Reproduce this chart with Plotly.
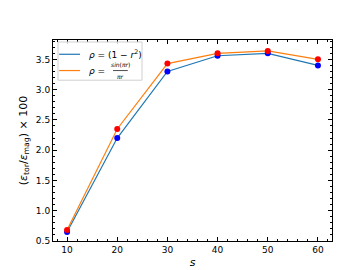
import plotly.graph_objects as go

s_vals = [10, 20, 30, 40, 50, 60]
ratio_parabolic = [0.65, 2.20, 3.30, 3.56, 3.60, 3.40]
ratio_sinc = [0.68, 2.35, 3.43, 3.60, 3.64, 3.50]

color_parabolic = "#1f77b4"
color_sinc = "#ff7f0e"

fig = go.Figure()
fig.add_trace(go.Scatter(x=s_vals, y=ratio_parabolic, mode="lines",
                         line=dict(color=color_parabolic, width=1.2)))
fig.add_trace(go.Scatter(x=s_vals, y=ratio_sinc, mode="lines",
                         line=dict(color=color_sinc, width=1.2)))
fig.add_trace(go.Scatter(x=s_vals, y=ratio_parabolic, mode="markers",
                         marker=dict(color="blue", size=6)))
fig.add_trace(go.Scatter(x=s_vals, y=ratio_sinc, mode="markers",
                         marker=dict(color="red", size=6)))

axis_common = dict(
    showline=True, linecolor="black", linewidth=1, mirror="ticks",
    ticks="inside", ticklen=4, tickcolor="black", tickwidth=1,
    showgrid=False, zeroline=False,
    tickfont=dict(family="DejaVu Sans", size=9, color="black"),
)
fig.update_xaxes(range=[7.2, 62.8], dtick=10, tick0=0,
                 minor=dict(ticks="inside", ticklen=2, dtick=2, tickcolor="black", showgrid=False),
                 title=dict(text="<i>s</i>", font=dict(family="DejaVu Sans", size=11, color="black"), standoff=4),
                 **axis_common)
fig.update_yaxes(range=[0.5, 3.82], dtick=0.5, tick0=0, tickformat=".1f",
                 minor=dict(ticks="inside", ticklen=2, dtick=0.1, tickcolor="black", showgrid=False),
                 title=dict(text="(<i>ε</i><sub>tor</sub>/<i>ε</i><sub>mag</sub>) × 100",
                            font=dict(family="DejaVu Sans", size=11, color="black"), standoff=6),
                 **axis_common)

# manual legend (matplotlib style, with stacked fraction)
shapes = [
    dict(type="rect", xref="paper", yref="paper", x0=0.018, x1=0.319, y0=0.800, y1=0.990,
         line=dict(color="#d0d0d0", width=1), fillcolor="rgba(255,255,255,0.8)", layer="above"),
    dict(type="line", xref="paper", yref="paper", x0=0.022, x1=0.097, y0=0.929, y1=0.929,
         line=dict(color=color_parabolic, width=1.2)),
    dict(type="line", xref="paper", yref="paper", x0=0.022, x1=0.097, y0=0.848, y1=0.848,
         line=dict(color=color_sinc, width=1.2)),
    dict(type="line", xref="paper", yref="paper", x0=0.215, x1=0.268, y0=0.848, y1=0.848,
         line=dict(color="black", width=0.7)),
]
lf = dict(family="DejaVu Sans", size=9, color="black")
sf = dict(family="DejaVu Sans", size=6, color="black")
annotations = [
    dict(xref="paper", yref="paper", x=0.122, y=0.929, xanchor="left", yanchor="middle",
         text="<i>ρ</i> = (1 − <i>r</i><sup>2</sup>)", showarrow=False, font=lf),
    dict(xref="paper", yref="paper", x=0.122, y=0.848, xanchor="left", yanchor="middle",
         text="<i>ρ</i> =", showarrow=False, font=lf),
    dict(xref="paper", yref="paper", x=0.2415, y=0.852, xanchor="center", yanchor="bottom",
         text="<i>sin</i>(<i>πr</i>)", showarrow=False, font=sf),
    dict(xref="paper", yref="paper", x=0.2415, y=0.844, xanchor="center", yanchor="top",
         text="<i>πr</i>", showarrow=False, font=sf),
]

fig.update_layout(
    width=360, height=270,
    margin=dict(l=45, r=36, t=32, b=30),
    plot_bgcolor="white", paper_bgcolor="white",
    showlegend=False,
    shapes=shapes,
    annotations=annotations,
)

fig.write_html("out.html")
